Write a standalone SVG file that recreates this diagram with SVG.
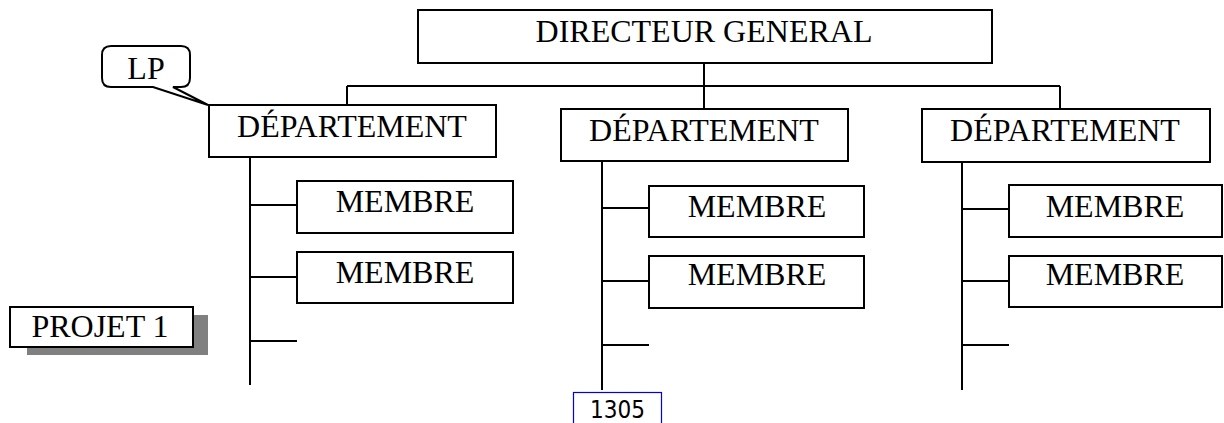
<svg xmlns="http://www.w3.org/2000/svg" width="1224" height="423" viewBox="0 0 1224 423">
<style>
.box{fill:#fff;stroke:#000;stroke-width:2}
.ln{fill:none;stroke:#000;stroke-width:2}
.t{font-family:"Liberation Serif","Times New Roman",serif;font-size:32px;fill:#000;text-anchor:middle}
</style>
<rect width="1224" height="423" fill="#fff"/>
<g id="connectors" class="ln">
<path d="M347,86 H1060 M347,86 V105 M704,63 V109 M1060,86 V109"/>
<path d="M250,157 V385 M250,205 H297 M250,277 H297 M250,341 H297"/>
<path d="M602,161 V390 M602,208 H649 M602,281 H649 M602,345 H649"/>
<path d="M962,162 V390 M962,209 H1009 M962,281 H1009 M962,345 H1009"/>
</g>
<g id="directeur"><rect class="box" x="418" y="10" width="574" height="53"/><text class="t" x="704" y="42">DIRECTEUR GENERAL</text></g>
<g id="dept1"><rect class="box" x="209" y="105" width="287" height="52"/><text class="t" x="352" y="137">DÉPARTEMENT</text></g>
<g id="dept2"><rect class="box" x="561" y="109" width="287" height="52"/><text class="t" x="704" y="141">DÉPARTEMENT</text></g>
<g id="dept3"><rect class="box" x="922" y="109" width="288" height="53"/><text class="t" x="1065" y="141">DÉPARTEMENT</text></g>
<g id="m11"><rect class="box" x="297" y="181" width="216" height="52"/><text class="t" x="405" y="212">MEMBRE</text></g>
<g id="m12"><rect class="box" x="297" y="252" width="216" height="51"/><text class="t" x="405" y="283">MEMBRE</text></g>
<g id="m21"><rect class="box" x="649" y="186" width="215" height="51"/><text class="t" x="757" y="217">MEMBRE</text></g>
<g id="m22"><rect class="box" x="649" y="256" width="215" height="52"/><text class="t" x="757" y="285">MEMBRE</text></g>
<g id="m31"><rect class="box" x="1009" y="185" width="213" height="52"/><text class="t" x="1115" y="217">MEMBRE</text></g>
<g id="m32"><rect class="box" x="1009" y="256" width="213" height="51"/><text class="t" x="1115" y="285">MEMBRE</text></g>
<g id="lp"><path class="box" d="M111,46 H181 Q190,46 190,55 V78 Q190,87 181,87 H173 L208,105 L153,87 H111 Q102,87 102,78 V55 Q102,46 111,46 Z"/><text class="t" x="146" y="79">LP</text></g>
<g id="projet"><rect x="27" y="315" width="181" height="40" fill="#808080"/><rect class="box" x="10" y="307" width="183" height="40"/><text class="t" x="100" y="337">PROJET 1</text></g>
<g id="page"><rect x="573.5" y="392.5" width="88" height="40" fill="#fff" stroke="#0000e0" stroke-width="1.2"/><text x="590" y="418" font-family="'DejaVu Sans Condensed','DejaVu Sans',sans-serif" font-size="24" textLength="55" lengthAdjust="spacingAndGlyphs" fill="#000">1305</text></g>
</svg>
